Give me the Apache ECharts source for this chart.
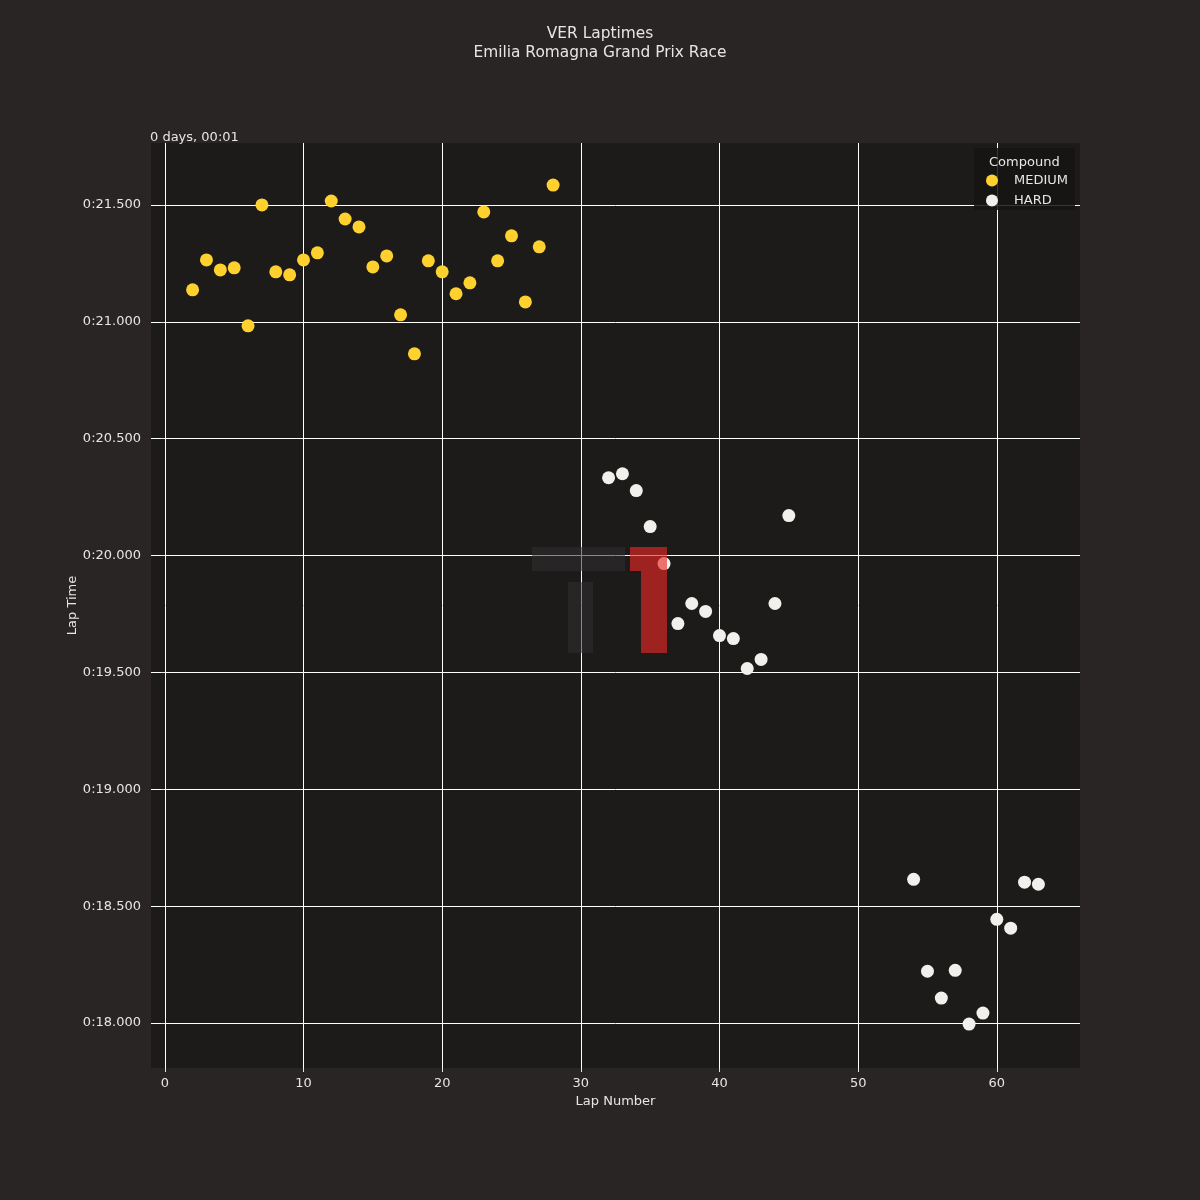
<!DOCTYPE html>
<html>
<head>
<meta charset="utf-8">
<script src="https://cdn.jsdelivr.net/npm/echarts@6/dist/echarts.min.js"></script>
<style>
  html, body { margin: 0; padding: 0; background: #292524; }
  #chart { width: 1200px; height: 1200px; }
</style>
</head>
<body>
<div id="chart"></div>
<script>
// lap times in seconds past 1:00 (the axis offset reads "0 days, 00:01")
var mediumLaps = [2, 3, 4, 5, 6, 7, 8, 9, 10, 11, 12, 13, 14, 15, 16, 17, 18, 19, 20, 21, 22, 23, 24, 25, 26, 27, 28];
var mediumTimes = [21.137, 21.265, 21.222, 21.231, 20.983, 21.500, 21.214, 21.201, 21.265, 21.295,
    21.517, 21.440, 21.406, 21.235, 21.282, 21.030, 20.863, 21.261, 21.214, 21.120,
    21.167, 21.470, 21.261, 21.368, 21.085, 21.321, 21.585];
var hardLaps = [32, 33, 34, 35, 36, 37, 38, 39, 40, 41, 42, 43, 44, 45, 54, 55, 56, 57, 58, 59, 60, 61, 62, 63];
var hardTimes = [20.333, 20.350, 20.278, 20.124, 19.966, 19.709, 19.795, 19.761, 19.658, 19.645,
    19.517, 19.556, 19.795, 20.171, 18.615, 18.222, 18.107, 18.226, 17.996, 18.043,
    18.444, 18.406, 18.603, 18.594];
var xTicks = [0, 10, 20, 30, 40, 50, 60];
var yTicks = [18.0, 18.5, 19.0, 19.5, 20.0, 20.5, 21.0, 21.5];

function zip(xs, ys) {
    var out = [];
    for (var i = 0; i < xs.length; i++) out.push([xs[i], ys[i]]);
    return out;
}

var textColor = '#e6e6e6';
var font = 'DejaVu Sans';

var myChart = echarts.init(document.getElementById('chart'), null, {renderer: 'canvas'});
var option = {
    backgroundColor: '#292524',
    animation: false,
    title: {
        text: 'VER Laptimes\nEmilia Romagna Grand Prix Race',
        left: 'center',
        top: 19,
        textStyle: {color: textColor, fontFamily: font, fontSize: 15.4, fontWeight: 'normal', lineHeight: 19, align: 'center'}
    },
    grid: {
        left: 151, right: 120, top: 143, bottom: 132,
        show: true, backgroundColor: '#1d1b1a', borderWidth: 0
    },
    legend: {
        left: 981,
        top: 169,
        orient: 'vertical',
        itemWidth: 12,
        itemHeight: 12,
        itemGap: 7,
        icon: 'circle',
        textStyle: {color: textColor, fontFamily: font, fontSize: 13, padding: [0, 0, 0, 11]},
        data: ['MEDIUM', 'HARD']
    },
    xAxis: {
        type: 'value',
        min: -1,
        max: 66,
        name: 'Lap Number',
        nameLocation: 'middle',
        nameGap: 27,
        nameTextStyle: {color: textColor, fontFamily: font, fontSize: 13},
        axisLine: {show: false},
        axisTick: {show: true, length: 4, customValues: xTicks, lineStyle: {color: '#e6e6e6'}},
        axisLabel: {customValues: xTicks, color: textColor, fontFamily: font, fontSize: 13, margin: 9},
        splitLine: {show: true, lineStyle: {color: '#ffffff', width: 1}}
    },
    yAxis: {
        type: 'value',
        min: 17.808,
        max: 21.765,
        name: 'Lap Time',
        nameLocation: 'middle',
        nameGap: 72,
        nameMoveOverlap: false,
        nameTextStyle: {color: textColor, fontFamily: font, fontSize: 13},
        axisLine: {show: false},
        axisTick: {show: true, length: 4, customValues: yTicks, lineStyle: {color: '#e6e6e6'}},
        axisLabel: {
            customValues: yTicks, color: textColor, fontFamily: font, fontSize: 13, margin: 10,
            formatter: function (v) { return '0:' + v.toFixed(3); }
        },
        splitLine: {show: true, lineStyle: {color: '#ffffff', width: 1}}
    },
    graphic: [
        {type: 'text', left: 150, top: 131, style: {text: '0 days, 00:01', fill: textColor, font: '13px "DejaVu Sans"'}},
        {type: 'rect', shape: {x: 974, y: 148, width: 101, height: 62}, style: {fill: 'rgba(22,20,19,0.85)'}, z: 1},
        {type: 'text', left: 989, top: 156, style: {text: 'Compound', fill: textColor, font: '13px "DejaVu Sans"'}, z: 2},
        // F1 watermark
        {type: 'rect', shape: {x: 532, y: 547, width: 93, height: 24}, style: {fill: 'rgba(48,47,46,0.56)'}, z: 50},
        {type: 'rect', shape: {x: 568, y: 582, width: 25, height: 71}, style: {fill: 'rgba(48,47,46,0.56)'}, z: 50},
        {type: 'rect', shape: {x: 630, y: 547, width: 37, height: 24}, style: {fill: 'rgba(235,40,36,0.63)'}, z: 50},
        {type: 'rect', shape: {x: 641, y: 571, width: 26, height: 82}, style: {fill: 'rgba(235,40,36,0.63)'}, z: 50}
    ],
    series: [
        {
            name: 'MEDIUM',
            type: 'scatter',
            symbolSize: 13,
            itemStyle: {color: '#ffd12e', opacity: 1},
            data: zip(mediumLaps, mediumTimes)
        },
        {
            name: 'HARD',
            type: 'scatter',
            symbolSize: 13,
            itemStyle: {color: '#f0f0ec', opacity: 1},
            data: zip(hardLaps, hardTimes)
        }
    ]
};
myChart.setOption(option);
</script>
</body>
</html>
